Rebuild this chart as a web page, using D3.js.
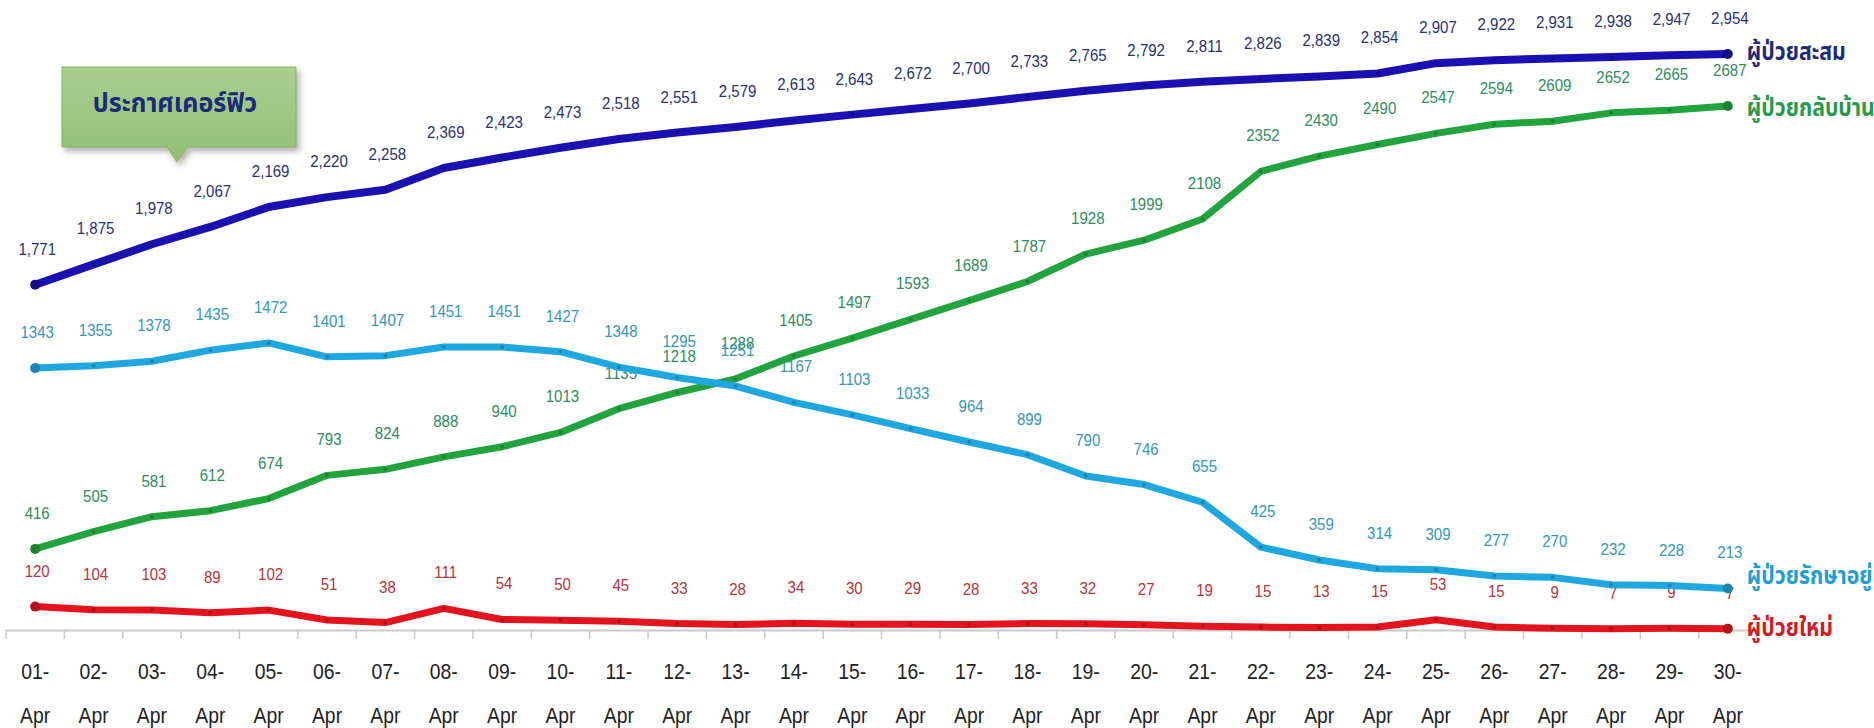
<!DOCTYPE html>
<html>
<head>
<meta charset="utf-8">
<script src="https://cdn.jsdelivr.net/npm/d3@7"></script>
<style>
  html, body { margin: 0; padding: 0; background: #fff; overflow: hidden; }
  svg { display: block; }
</style>
</head>
<body>
<div id="chart"></div>
<script>
// วันที่ (แกน x)
const days = ['01', '02', '03', '04', '05', '06', '07', '08', '09', '10',
  '11', '12', '13', '14', '15', '16', '17', '18', '19', '20',
  '21', '22', '23', '24', '25', '26', '27', '28', '29', '30'];
const monthLabel = 'Apr';

// ผู้ป่วยสะสม
const totalCases = [1771, 1875, 1978, 2067, 2169, 2220, 2258, 2369, 2423, 2473,
  2518, 2551, 2579, 2613, 2643, 2672, 2700, 2733, 2765, 2792,
  2811, 2826, 2839, 2854, 2907, 2922, 2931, 2938, 2947, 2954];
// ผู้ป่วยกลับบ้าน
const recovered = [416, 505, 581, 612, 674, 793, 824, 888, 940, 1013,
  1135, 1218, 1288, 1405, 1497, 1593, 1689, 1787, 1928, 1999,
  2108, 2352, 2430, 2490, 2547, 2594, 2609, 2652, 2665, 2687];
// ผู้ป่วยรักษาอยู่
const inHospital = [1343, 1355, 1378, 1435, 1472, 1401, 1407, 1451, 1451, 1427,
  1348, 1295, 1251, 1167, 1103, 1033, 964, 899, 790, 746,
  655, 425, 359, 314, 309, 277, 270, 232, 228, 213];
// ผู้ป่วยใหม่
const newCases = [120, 104, 103, 89, 102, 51, 38, 111, 54, 50,
  45, 33, 28, 34, 30, 29, 28, 33, 32, 27,
  19, 15, 13, 15, 53, 15, 9, 7, 9, 7];

const seriesNames = ['ผู้ป่วยสะสม', 'ผู้ป่วยกลับบ้าน', 'ผู้ป่วยรักษาอยู่', 'ผู้ป่วยใหม่'];
const calloutText = 'ประกาศเคอร์ฟิว';

const W = 1874, H = 728;
const numFont = '"Liberation Sans", Arial, sans-serif';
const thaiFont = '"Noto Sans Thai", "Noto Sans Thai UI", Loma, Garuda, "Tlwg Typo", Tahoma, "Noto Sans", sans-serif';

let svg = d3.select('#chart').append('svg')
  .attr('width', W)
  .attr('height', H);

let x = d3.scaleBand().domain(days).range([6, 1757]).padding(0);
let y = d3.scaleLinear().domain([0, 3000]).range([630, 45]);
let cx = d => x(d) + x.bandwidth() / 2;

// แต่ละเส้น: ค่า สีเส้น สีตัวเลข ชื่อ
let series = [
  { key: 'new', values: newCases, line: '#e3141d', text: '#b8333b', comma: false, name: seriesNames[3], nameColor: '#d41a22', dy: 0, width: 7 },
  { key: 'rec', values: recovered, line: '#21a33d', text: '#2e8d5c', comma: false, name: seriesNames[1], nameColor: '#27994a', dy: 3, width: 7 },
  { key: 'hosp', values: inHospital, line: '#1fa7df', text: '#3497b8', comma: false, name: seriesNames[2], nameColor: '#1d9fd2', dy: -11, width: 7 },
  { key: 'total', values: totalCases, line: '#1b10b2', text: '#2a3170', comma: true, name: seriesNames[0], nameColor: '#1f2a78', dy: -1, width: 8 }
];

// แกน x
let axis = svg.append('g')
  .attr('transform', 'translate(0,' + y(0) + ')')
  .call(d3.axisBottom(x).tickSize(0).tickFormat(''));
axis.select('.domain').attr('stroke', '#c9c9c9').attr('stroke-width', 2);

// ขีดแบ่งระหว่างวัน
let bounds = days.map(d => x(d)).concat([x(days[days.length - 1]) + x.bandwidth()]);
svg.append('g').selectAll('line')
  .data(bounds)
  .join('line')
  .attr('x1', d => d).attr('x2', d => d)
  .attr('y1', y(0)).attr('y2', y(0) + 9)
  .attr('stroke', '#c9c9c9')
  .attr('stroke-width', 1.5);

let tickLabels = svg.append('g')
  .attr('font-family', numFont)
  .attr('font-size', 22)
  .attr('fill', '#222')
  .attr('text-anchor', 'middle');
tickLabels.selectAll('text.day')
  .data(days)
  .join('text')
  .attr('class', 'day')
  .attr('transform', d => 'translate(' + cx(d) + ',679) scale(0.88,1)')
  .text(d => d + '-');
tickLabels.selectAll('text.mon')
  .data(days)
  .join('text')
  .attr('class', 'mon')
  .attr('transform', d => 'translate(' + cx(d) + ',723) scale(0.88,1)')
  .text(monthLabel);

// ตัวเลขกำกับ (วาดก่อนเส้น เส้นจะทับตัวเลข)
let fmtComma = d3.format(',');
series.forEach(s => {
  svg.append('g')
    .attr('font-family', numFont)
    .attr('font-size', 16)
    .attr('fill', s.text)
    .attr('text-anchor', 'middle')
    .selectAll('text')
    .data(s.values)
    .join('text')
    .attr('transform', (v, i) => 'translate(' + (cx(days[i]) + 2) + ',' + (y(v) - 30) + ') scale(0.94,1)')
    .text(v => s.comma ? fmtComma(v) : v);
});

// เส้นกราฟ
let line = d3.line()
  .x((v, i) => cx(days[i]))
  .y(v => y(v));

let drawOrder = ['new', 'rec', 'hosp', 'total'];
drawOrder.forEach(k => {
  let s = series.find(t => t.key === k);
  svg.append('path')
    .datum(s.values)
    .attr('d', line)
    .attr('fill', 'none')
    .attr('stroke', s.line)
    .attr('stroke-width', s.width)
    .attr('stroke-linejoin', 'round')
    .attr('stroke-linecap', 'round');
  svg.append('g').selectAll('circle')
    .data(s.values)
    .join('circle')
    .attr('cx', (v, i) => cx(days[i]))
    .attr('cy', v => y(v))
    .attr('r', (v, i) => i === 0 || i === s.values.length - 1 ? 5 : 2)
    .attr('fill', d3.color(s.line).darker(0.6));
});

// ชื่อเส้นด้านขวา
let lastX = cx(days[days.length - 1]);
series.forEach(s => {
  svg.append('text')
    .attr('transform', 'translate(' + (lastX + 19) + ',' + (y(s.values[s.values.length - 1]) + s.dy) + ') scale(0.85,1)')
    .attr('dominant-baseline', 'middle')
    .attr('font-family', thaiFont)
    .attr('font-weight', 'bold')
    .attr('font-size', 25)
    .attr('fill', s.nameColor)
    .text(s.name);
});

// กล่องข้อความ ประกาศเคอร์ฟิว
let defs = svg.append('defs');
let grad = defs.append('linearGradient')
  .attr('id', 'boxGrad')
  .attr('x1', 0).attr('y1', 0).attr('x2', 0).attr('y2', 1);
grad.append('stop').attr('offset', '0%').attr('stop-color', '#a9cf8f');
grad.append('stop').attr('offset', '100%').attr('stop-color', '#92bf74');
let shadow = defs.append('filter').attr('id', 'boxShadow')
  .attr('x', '-10%').attr('y', '-10%').attr('width', '130%').attr('height', '140%');
shadow.append('feDropShadow')
  .attr('dx', 3).attr('dy', 4)
  .attr('stdDeviation', 3)
  .attr('flood-color', '#555')
  .attr('flood-opacity', 0.45);

let bx = 62, by = 67, bw = 234, bh = 80;
let tipX = 177, tipW = 20;
let boxPath = 'M' + bx + ',' + by +
  'H' + (bx + bw) + 'V' + (by + bh) +
  'H' + (tipX + tipW / 2) + 'L' + tipX + ',' + (by + bh + 15) +
  'L' + (tipX - tipW / 2) + ',' + (by + bh) +
  'H' + bx + 'Z';
svg.append('path')
  .attr('d', boxPath)
  .attr('fill', 'url(#boxGrad)')
  .attr('stroke', '#86b368')
  .attr('stroke-width', 1)
  .attr('filter', 'url(#boxShadow)');
svg.append('text')
  .attr('transform', 'translate(' + (bx + bw / 2 - 4) + ',' + (by + 37) + ') scale(0.93,1)')
  .attr('dominant-baseline', 'middle')
  .attr('text-anchor', 'middle')
  .attr('font-family', thaiFont)
  .attr('font-weight', 'bold')
  .attr('font-size', 27)
  .attr('fill', '#1c2a7a')
  .text(calloutText);
</script>
</body>
</html>
